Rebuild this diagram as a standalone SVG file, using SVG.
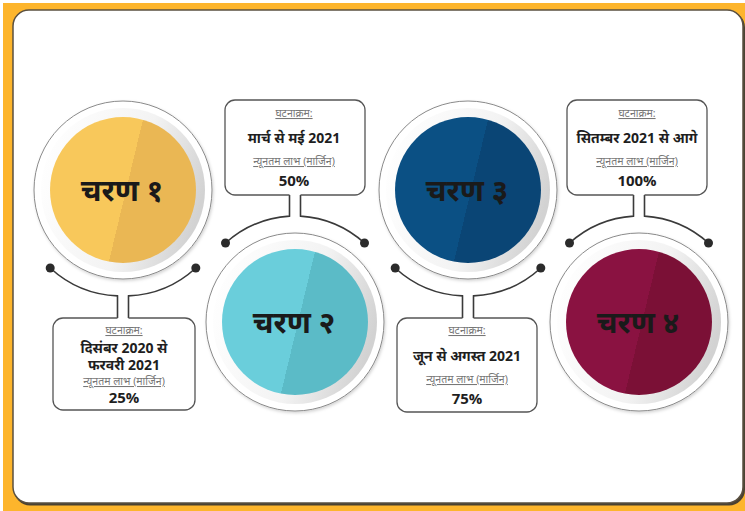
<svg xmlns="http://www.w3.org/2000/svg" width="745" height="511" viewBox="0 0 745 511">
<defs>
<style>
.ring{fill:#fff;stroke:#8a8a8a;stroke-width:1}
.shade{fill:url(#ringGrad)}
.stage{font-family:"Noto Sans","Noto Sans Devanagari","Lohit Devanagari","Mukta",sans-serif;font-weight:700;font-size:30px;fill:#1a1a1a;text-anchor:middle}
.box{fill:#fff;stroke:#555;stroke-width:1.3}
.lbl{font-family:"Noto Sans","Noto Sans Devanagari","Lohit Devanagari",sans-serif;font-size:10.5px;fill:#777;text-anchor:middle;text-decoration:underline}
.big{font-family:"Noto Sans","Noto Sans Devanagari","Lohit Devanagari",sans-serif;font-weight:700;font-size:14px;fill:#1e1e1e;text-anchor:middle}
.pct{font-family:"Open Sans","Liberation Sans",sans-serif;font-weight:700;font-size:15px;fill:#1e1e1e;text-anchor:middle}
.con{fill:none;stroke:#3a3a3a;stroke-width:1.6}
.dot{fill:#2b2b2b}
</style>
<linearGradient id="ringGrad" x1="0" y1="0.2" x2="1" y2="0.5">
<stop offset="0" stop-color="#ffffff"/><stop offset="0.6" stop-color="#f3f3f3"/><stop offset="1" stop-color="#d2d2d2"/>
</linearGradient>
<linearGradient id="gY" x1="0" y1="0.38" x2="1" y2="0.62"><stop offset="0.52" stop-color="#F8C85B"/><stop offset="0.52" stop-color="#EAB754"/></linearGradient>
<linearGradient id="gT" x1="0" y1="0.38" x2="1" y2="0.62"><stop offset="0.52" stop-color="#6ACEDB"/><stop offset="0.52" stop-color="#5BBBC7"/></linearGradient>
<linearGradient id="gN" x1="0" y1="0.38" x2="1" y2="0.62"><stop offset="0.52" stop-color="#0B5084"/><stop offset="0.52" stop-color="#0A4575"/></linearGradient>
<linearGradient id="gM" x1="0" y1="0.38" x2="1" y2="0.62"><stop offset="0.52" stop-color="#8A1241"/><stop offset="0.52" stop-color="#7B1036"/></linearGradient>
<filter id="sh" x="-10%" y="-10%" width="120%" height="120%"><feDropShadow dx="1" dy="1.5" stdDeviation="1.5" flood-color="#000" flood-opacity="0.18"/></filter>
</defs>

<rect x="0" y="0" width="745" height="511" fill="#fff"/>
<rect x="3" y="3" width="742" height="508" fill="#FDB52C"/>
<rect x="14" y="11.5" width="731" height="494" rx="16" fill="#4a4232"/>
<rect x="13" y="10" width="730" height="493" rx="16" fill="#fff" stroke="#5a5040" stroke-width="1.5"/>

<g id="connectors">
<path class="con" d="M50.2 268 A106 106 0 0 0 117.5 295.9 V318 M128.5 318 V295.9 A106 106 0 0 0 195.8 268"/>
<path class="con" d="M225.5 243 A106 106 0 0 1 289.5 216.1 V195 M300.5 195 V216.1 A106 106 0 0 1 364.5 243"/>
<path class="con" d="M395.2 268 A106 106 0 0 0 462.5 295.9 V318 M473.5 318 V295.9 A106 106 0 0 0 540.8 268"/>
<path class="con" d="M569.5 243 A106 106 0 0 1 633.5 216.1 V195 M644.5 195 V216.1 A106 106 0 0 1 708.5 243"/>
<circle class="dot" cx="50.2" cy="268" r="4.5"/><circle class="dot" cx="195.8" cy="268" r="4.5"/>
<circle class="dot" cx="225.5" cy="243" r="4.5"/><circle class="dot" cx="364.5" cy="243" r="4.5"/>
<circle class="dot" cx="395.2" cy="268" r="4.5"/><circle class="dot" cx="540.8" cy="268" r="4.5"/>
<circle class="dot" cx="569.5" cy="243" r="4.5"/><circle class="dot" cx="708.5" cy="243" r="4.5"/>
</g>

<g id="stage1">
<circle class="ring" cx="123" cy="190" r="89" filter="url(#sh)"/>
<circle class="shade" cx="123" cy="190" r="82"/>
<circle cx="123" cy="190" r="73" fill="url(#gY)"/>
<text class="stage" x="122" y="201">चरण १</text>
</g>
<g id="stage2">
<circle class="ring" cx="295" cy="322" r="89" filter="url(#sh)"/>
<circle class="shade" cx="295" cy="322" r="82"/>
<circle cx="295" cy="322" r="73" fill="url(#gT)"/>
<text class="stage" x="294" y="333">चरण २</text>
</g>
<g id="stage3">
<circle class="ring" cx="468" cy="190" r="89" filter="url(#sh)"/>
<circle class="shade" cx="468" cy="190" r="82"/>
<circle cx="468" cy="190" r="73" fill="url(#gN)"/>
<text class="stage" x="467" y="201">चरण ३</text>
</g>
<g id="stage4">
<circle class="ring" cx="639" cy="322" r="89" filter="url(#sh)"/>
<circle class="shade" cx="639" cy="322" r="82"/>
<circle cx="639" cy="322" r="73" fill="url(#gM)"/>
<text class="stage" x="638" y="333">चरण ४</text>
</g>

<g id="box1">
<path class="box" d="M117.5 318 H63 A10 10 0 0 0 53 328 V400 A10 10 0 0 0 63 410 H185 A10 10 0 0 0 195 400 V328 A10 10 0 0 0 185 318 H128.5"/>
<text class="lbl" x="124" y="334">घटनाक्रम:</text>
<text class="big" x="124" y="353">दिसंबर 2020 से<tspan x="124" dy="17">फरवरी 2021</tspan></text>
<text class="lbl" x="124" y="385">न्यूनतम लाभ (मार्जिन)</text>
<text class="pct" x="124" y="403">25%</text>
</g>
<g id="box2">
<path class="box" d="M289.5 195 H235 A10 10 0 0 1 225 185 V110 A10 10 0 0 1 235 100 H355 A10 10 0 0 1 365 110 V185 A10 10 0 0 1 355 195 H300.5"/>
<text class="lbl" x="294" y="117">घटनाक्रम:</text>
<text class="big" x="294" y="143">मार्च से मई 2021</text>
<text class="lbl" x="294" y="165">न्यूनतम लाभ (मार्जिन)</text>
<text class="pct" x="294" y="186">50%</text>
</g>
<g id="box3">
<path class="box" d="M462.5 318 H407 A10 10 0 0 0 397 328 V402 A10 10 0 0 0 407 412 H527 A10 10 0 0 0 537 402 V328 A10 10 0 0 0 527 318 H473.5"/>
<text class="lbl" x="467" y="334">घटनाक्रम:</text>
<text class="big" x="467" y="361">जून से अगस्त 2021</text>
<text class="lbl" x="467" y="383">न्यूनतम लाभ (मार्जिन)</text>
<text class="pct" x="467" y="404">75%</text>
</g>
<g id="box4">
<path class="box" d="M633.5 195 H577 A10 10 0 0 1 567 185 V110 A10 10 0 0 1 577 100 H697 A10 10 0 0 1 707 110 V185 A10 10 0 0 1 697 195 H644.5"/>
<text class="lbl" x="637" y="117">घटनाक्रम:</text>
<text class="big" x="637" y="143">सितम्बर 2021 से आगे</text>
<text class="lbl" x="637" y="165">न्यूनतम लाभ (मार्जिन)</text>
<text class="pct" x="637" y="186">100%</text>
</g>
</svg>
